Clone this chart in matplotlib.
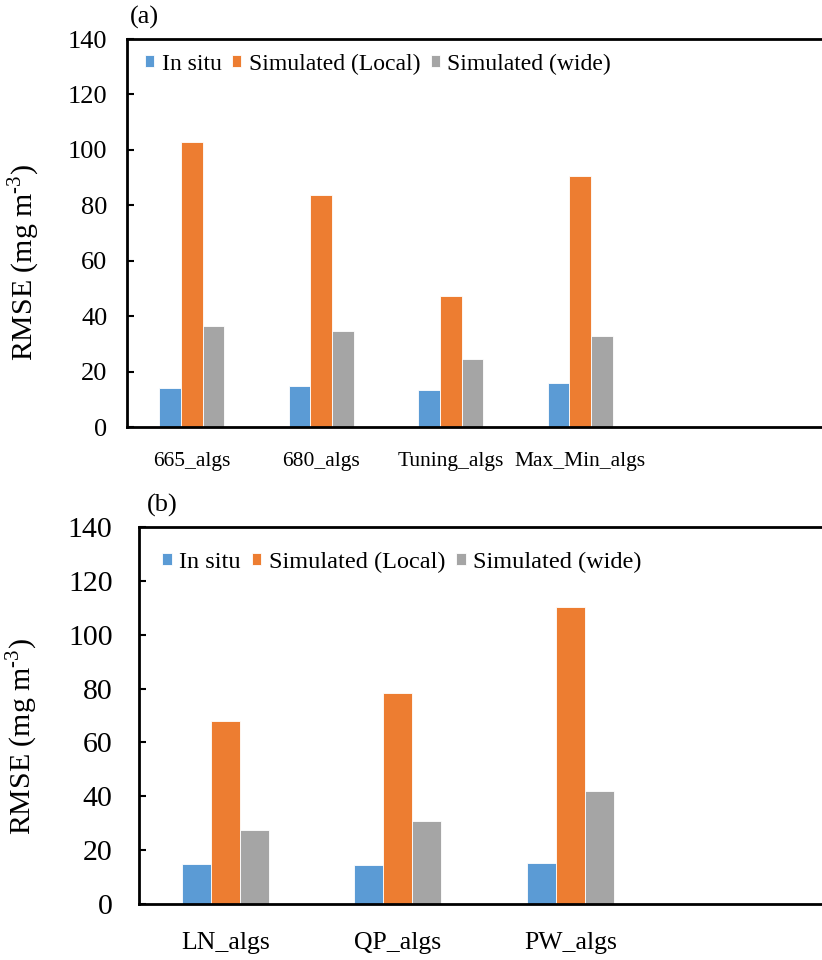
import numpy as np
import matplotlib.pyplot as plt

plt.rcParams['font.family'] = ['Liberation Serif', 'DejaVu Serif']
plt.rcParams['mathtext.fontset'] = 'custom'
plt.rcParams['mathtext.rm'] = 'Liberation Serif'

# data
series = ['In situ', 'Simulated (Local)', 'Simulated (wide)']
colors = ['#5B9BD5', '#ED7D31', '#A5A5A5']

cats_a = ['665_algs', '680_algs', 'Tuning_algs', 'Max_Min_algs']
in_situ_a = [13.9, 14.9, 13.4, 15.8]
local_a = [102.7, 83.6, 47.2, 90.6]
wide_a = [36.5, 34.8, 24.6, 32.9]

cats_b = ['LN_algs', 'QP_algs', 'PW_algs']
in_situ_b = [14.9, 14.3, 15.4]
local_b = [68.0, 78.4, 110.2]
wide_b = [27.3, 31.0, 41.9]

yticks = [0, 20, 40, 60, 80, 100, 120, 140]

W, H = 822, 960
fig = plt.figure(figsize=(W / 100, H / 100), dpi=100)


def panel(rect, cats, vals, xmax, tick_fs, tick_pad, cat_fs, cat_pad,
          leg_fs, tag, tag_xy, label_xy, leg_xy):
    ax = fig.add_axes(rect)
    x = np.arange(len(cats))
    w = 0.168
    for i, (v, c, s) in enumerate(zip(vals, colors, series)):
        ax.bar(x + (i - 1) * w, v, w, color=c, edgecolor='white',
               linewidth=0.6, label=s, zorder=2)
    ax.set_xlim(-0.5, xmax)
    ax.set_ylim(0, 140)
    ax.set_yticks(yticks)
    ax.set_xticks(x)
    ax.set_xticklabels(cats, fontsize=cat_fs)
    ax.tick_params(axis='y', direction='in', length=5, width=1.5,
                   labelsize=tick_fs, pad=tick_pad)
    ax.tick_params(axis='x', length=0, pad=cat_pad)
    for sp in ax.spines.values():
        sp.set_linewidth(2)
    ax.set_ylabel(r'RMSE (mg m$^{\text{-}3}$)', fontsize=21.5)
    ax.yaxis.set_label_coords(*label_xy)
    ax.legend(loc='center left', bbox_to_anchor=leg_xy,
              bbox_transform=fig.transFigure, ncol=3,
              frameon=False, fontsize=leg_fs, handlelength=0.4,
              handleheight=0.4, handletextpad=0.3, columnspacing=0.45,
              borderaxespad=0, borderpad=0)
    fig.text(tag_xy[0], tag_xy[1], tag, fontsize=19, ha='left', va='center')
    return ax


panel([127 / W, 1 - 427 / H, (835 - 127) / W, (427 - 39) / H],
      cats_a, [in_situ_a, local_a, wide_a], -0.5 + 708 / 129.5,
      19, 14, 15.5, 18, 17, '(a)', (130 / W, 1 - 17 / H), (-0.12, 0.423),
      (145 / W, 1 - 64 / H))

panel([139 / W, 1 - 904 / H, (835 - 139) / W, (904 - 527) / H],
      cats_b, [in_situ_b, local_b, wide_b], -0.5 + 696 / 172.5,
      21.5, 19, 18.5, 20, 17.5, '(b)', (147 / W, 1 - 505 / H),
      (-0.142, 0.443), (162 / W, 1 - 562 / H))

plt.savefig('out.png', dpi=100)
